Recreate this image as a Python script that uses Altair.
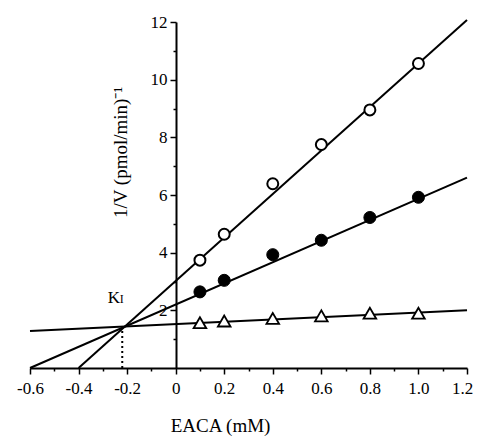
import altair as alt
import pandas as pd

# EACA concentration (mM) of the measured points
x_conc = [0.1, 0.2, 0.4, 0.6, 0.8, 1.0]
# 1/V values for the three series
y_open = [3.74, 4.64, 6.39, 7.75, 8.95, 10.56]
y_filled = [2.64, 3.04, 3.93, 4.43, 5.22, 5.92]
y_triangle = [1.57, 1.63, 1.72, 1.81, 1.90, 1.90]

# fitted straight lines (end points)
fit_open_x = [-0.4, 1.2]
fit_open_y = [0.0, 12.07]
fit_filled_x = [-0.6, 1.2]
fit_filled_y = [0.0, 6.6]
fit_tri_x = [-0.6, 1.2]
fit_tri_y = [1.28, 2.0]

# Ki intersection (dotted drop line)
ki_x = [-0.22]
ki_y = [1.42]
ki_label_x = [-0.28]
ki_label_y = [2.25]

x_ticks = [-0.6, -0.5, -0.4, -0.3, -0.2, -0.1, 0.0, 0.1, 0.2, 0.3, 0.4,
           0.5, 0.6, 0.7, 0.8, 0.9, 1.0, 1.1, 1.2]
y_ticks = [1, 2, 3, 4, 5, 6, 7, 8, 9, 10, 11, 12]

FONT = "Liberation Serif"

pts_open = pd.DataFrame({"x": x_conc, "y": y_open})
pts_filled = pd.DataFrame({"x": x_conc, "y": y_filled})
pts_tri = pd.DataFrame({"x": x_conc, "y": y_triangle})
lines = pd.DataFrame({
    "x": fit_open_x + fit_filled_x + fit_tri_x,
    "y": fit_open_y + fit_filled_y + fit_tri_y,
    "s": ["open"] * 2 + ["filled"] * 2 + ["tri"] * 2,
})
drop = pd.DataFrame({"x": ki_x, "y": [0.0], "y2": ki_y})
lab = pd.DataFrame({"x": ki_label_x, "y": ki_label_y, "t": ["K"], "sub": ["I"]})

xs = alt.Scale(domain=[-0.6, 1.2], nice=False, zero=False)
ys = alt.Scale(domain=[0, 12], nice=False, zero=False)

even_x = "abs(round(datum.value*10)) % 2 == 0"
x_axis = alt.Axis(
    values=x_ticks,
    labelExpr=(f"{even_x} ? (abs(datum.value) < 1e-6 ? '0' : "
               "replace(format(datum.value, '.1f'), '\u2212', '-')) : ''"),
    tickSize={"condition": {"test": even_x, "value": 6}, "value": 3},
    labelOffset={"condition": {"test": "datum.value > 1.15", "value": -5}, "value": 0},
    title="EACA (mM)",
    titleX=190, titleY=57, titleBaseline="middle", titleAlign="center",
    labelPadding=6, labelFlush=False, labelOverlap=False,
    grid=False,
)
y_axis = alt.Axis(
    values=y_ticks,
    offset=-146,
    labelExpr="datum.value % 2 == 0 ? datum.label : ''",
    tickSize={"condition": {"test": "datum.value % 2 == 0", "value": 6}, "value": 3},
    title="1/V  (pmol/min)\u207b\u00b9",
    titleAngle=270, titleX=-56, titleY=130, titleBaseline="middle", titleAlign="center",
    labelPadding=3, labelOverlap=False,
    grid=False,
)

X = alt.X("x:Q", scale=xs, axis=x_axis)
Y = alt.Y("y:Q", scale=ys, axis=y_axis)

line_layer = alt.Chart(lines).mark_line(color="black", strokeWidth=2, clip=False).encode(
    x=X, y=Y, detail="s:N")
drop_layer = alt.Chart(drop).mark_rule(color="black", strokeWidth=2, strokeDash=[2, 3]).encode(
    x=X, y=Y, y2="y2:Q")
open_layer = alt.Chart(pts_open).mark_point(
    shape="circle", size=120, filled=True, fill="white", stroke="black", strokeWidth=2, opacity=1
).encode(x=X, y=Y)
filled_layer = alt.Chart(pts_filled).mark_point(
    shape="circle", size=145, filled=True, fill="black", stroke="black", strokeWidth=1, opacity=1
).encode(x=X, y=Y)
tri_layer = alt.Chart(pts_tri).mark_point(
    shape="triangle-up", size=160, filled=True, fill="white", stroke="black", strokeWidth=1.8, opacity=1
).encode(x=X, y=Y)
k_layer = alt.Chart(lab).mark_text(font=FONT, fontSize=17, align="left", baseline="alphabetic", color="black").encode(
    x=X, y=Y, text="t:N")
sub_layer = alt.Chart(lab).mark_text(font=FONT, fontSize=12, align="left", baseline="alphabetic", dx=12, color="black").encode(
    x=X, y=Y, text="sub:N")

chart = alt.layer(
    line_layer, drop_layer, open_layer, filled_layer, tri_layer, k_layer, sub_layer
).properties(
    width=437, height=346,
    background="white",
    autosize=alt.AutoSizeParams(type="none"),
    padding={"left": 22, "top": 14, "right": 6, "bottom": 68},
).configure_view(stroke=None).configure_axis(
    domainColor="black", domainWidth=2, tickColor="black", tickWidth=1.5,
    labelColor="black", labelFont=FONT, labelFontSize=17,
    titleColor="black", titleFont=FONT, titleFontSize=19, titleFontWeight="normal",
)

chart.save("out.html", embed_options={"renderer": "svg", "actions": False})
